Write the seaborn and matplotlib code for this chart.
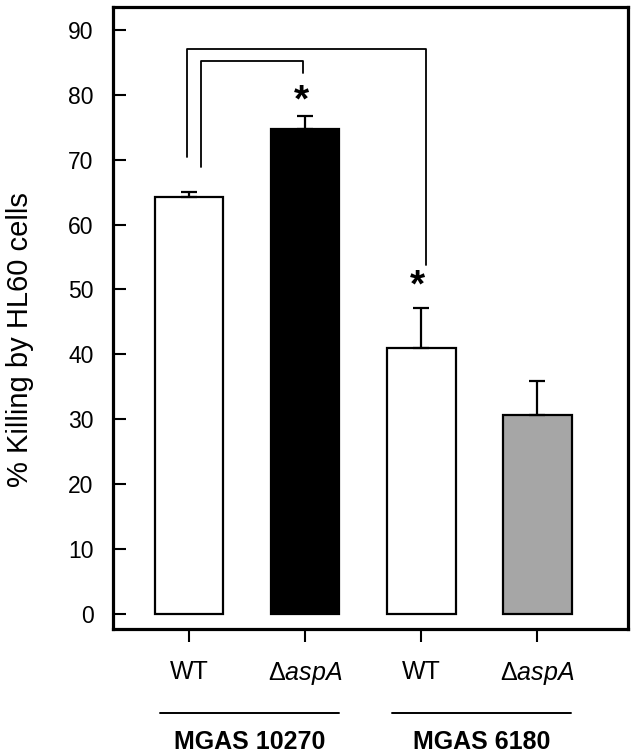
import numpy as np
import pandas as pd
import matplotlib
matplotlib.use("Agg")
import matplotlib.pyplot as plt
import seaborn as sns

# values
strains = ["MGAS 10270", "MGAS 10270", "MGAS 6180", "MGAS 6180"]
genotypes = ["WT", "aspA", "WT", "aspA"]
killing = [64.3, 74.7, 41.0, 30.6]
sem = [0.7, 2.0, 6.1, 5.3]
bar_colors = ["white", "black", "white", "#a6a6a6"]
tick_labels = ["WT", r"$\Delta\mathit{aspA}$", "WT", r"$\Delta\mathit{aspA}$"]
group_names = ["MGAS 10270", "MGAS 6180"]
yticks = list(range(0, 100, 10))

sns.set_style("ticks")
plt.rcParams["font.family"] = ["Liberation Sans", "DejaVu Sans"]
plt.rcParams["mathtext.fontset"] = "custom"
plt.rcParams["mathtext.rm"] = "Liberation Sans"
plt.rcParams["mathtext.it"] = "Liberation Sans:italic"
for key in ["text.color", "axes.edgecolor", "axes.labelcolor",
            "xtick.color", "ytick.color"]:
    plt.rcParams[key] = "black"

df = pd.DataFrame({"bar": [f"{g} {s}" for g, s in zip(genotypes, strains)],
                   "killing": killing})

fig = plt.figure(figsize=(6.38, 7.56), dpi=100)
ax = fig.add_axes([0.1771, 0.168, 0.8072, 0.8227])

sns.barplot(data=df, x="bar", y="killing", hue="bar", palette=bar_colors,
            legend=False, width=0.59, edgecolor="black", linewidth=1.6,
            errorbar=None, ax=ax)
pos = np.arange(len(killing))
ax.errorbar(pos, killing, yerr=[np.zeros(len(sem)), sem], fmt="none",
            ecolor="black", elinewidth=1.6, capsize=6, capthick=1.6, zorder=3)

ax.set_xlim(-0.655, 3.78)
ax.set_ylim(-2.3, 93.5)
ax.set_yticks(yticks)
ax.set_xticks(pos)
ax.set_xticklabels(tick_labels, fontsize=18)
ax.tick_params(axis="y", direction="in", length=9, width=1.5, labelsize=16.5, pad=14)
ax.tick_params(axis="x", direction="out", length=9, width=1.5, pad=13)
ax.set_xlabel("")
ax.set_ylabel("")
for sp in ax.spines.values():
    sp.set_visible(True)
    sp.set_linewidth(2.3)

# significance brackets
lw = 1.3
ax.plot([0 - 0.02, 0 - 0.02, 2 + 0.04, 2 + 0.04], [70.4, 87.1, 87.1, 53.8],
        color="black", lw=lw)
ax.plot([0 + 0.1, 0 + 0.1, 1 - 0.02, 1 - 0.02], [68.9, 85.2, 85.2, 83.4],
        color="black", lw=lw)
ax.text(1 - 0.03, 78.9, "*", ha="center", va="center", fontsize=28,
        fontweight="bold")
ax.text(2 - 0.03, 50.4, "*", ha="center", va="center", fontsize=28,
        fontweight="bold")

# strain group lines and labels
trans = ax.get_xaxis_transform()
for i, name in enumerate(group_names):
    c = 2 * i + 0.52
    ax.plot([c - 0.77, c + 0.77], [-0.135, -0.135], color="black", lw=1.4,
            transform=trans, clip_on=False)
    ax.text(c, -0.182, name, ha="center", va="center", fontsize=18,
            fontweight="bold", transform=trans)

fig.text(20 / 638, 1 - 340 / 756, "% Killing by HL60 cells", rotation=90,
         ha="center", va="center", fontsize=21)

fig.savefig("out.png", dpi=100)
